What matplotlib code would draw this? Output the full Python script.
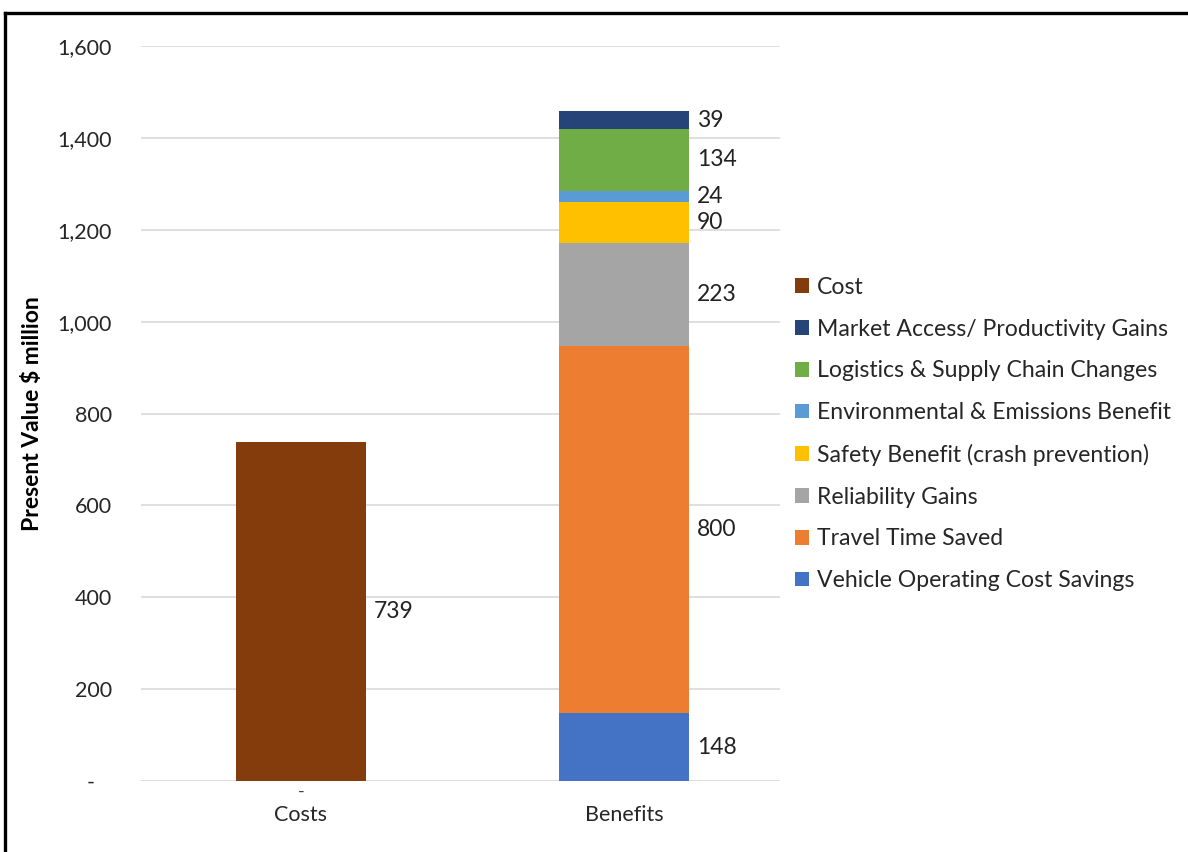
import numpy as np
import matplotlib
matplotlib.use("Agg")
import matplotlib.pyplot as plt
from matplotlib.lines import Line2D
from matplotlib.patches import Patch
from matplotlib.ticker import FuncFormatter

plt.rcParams['font.family'] = ['Lato', 'DejaVu Sans']

categories = ["Costs", "Benefits"]
# stacking order, bottom to top
series_names = ["Cost", "Vehicle Operating Cost Savings", "Travel Time Saved",
                "Reliability Gains", "Safety Benefit (crash prevention)",
                "Environmental & Emissions Benefit", "Logistics & Supply Chain Changes",
                "Market Access/ Productivity Gains"]
series_values = [[739, 0], [0, 148], [0, 800], [0, 223], [0, 90], [0, 24], [0, 134], [0, 39]]
colors = ["#843C0C", "#4472C4", "#ED7D31", "#A5A5A5", "#FFC000",
          "#5B9BD5", "#70AD47", "#264478"]
legend_order = [0, 7, 6, 5, 4, 3, 2, 1]
yticks = [0, 200, 400, 600, 800, 1000, 1200, 1400, 1600]

fig = plt.figure(figsize=(11.88, 8.52), dpi=100)
ax = fig.add_axes([141/1188, 1-781/852, (780-141)/1188, (781-46)/852])

x = np.arange(len(categories))
bottom = np.zeros(len(categories))
width = 0.40
for name, vals, c in zip(series_names, series_values, colors):
    vals = np.array(vals, dtype=float)
    ax.bar(x, vals, width, bottom=bottom, color=c, zorder=3, label=name)
    for i, v in enumerate(vals):
        if v > 0:
            ax.text(x[i] + width/2 + 0.025, bottom[i] + v/2, f"{v:.0f}",
                    ha="left", va="center", fontsize=16.5, color="#222222")
    bottom += vals
# zero-value label under the Costs bar
ax.text(0, -6, "-", ha="center", va="top", fontsize=13, color="#404040")

ax.set_xlim(-0.495, 1.483)
ax.set_ylim(0, 1600)
ax.set_yticks(yticks)
ax.yaxis.set_major_formatter(FuncFormatter(lambda v, p: "-   " if v == 0 else f"{v:,.0f}"))
ax.set_xticks(x)
ax.set_xticklabels(categories)
ax.tick_params(axis="both", length=0, labelsize=15.5, labelcolor="#262626")
ax.tick_params(axis="y", pad=21)
ax.tick_params(axis="x", pad=17)
ax.grid(axis="y", color="#D9D9D9", linewidth=1.2, zorder=0)
for s in ax.spines.values():
    s.set_visible(False)
ax.set_ylabel("Present Value $ million", fontsize=16.5, fontweight="bold", labelpad=10)

handles = [Patch(facecolor=colors[i], edgecolor="none") for i in legend_order]
labels = [series_names[i] for i in legend_order]
fig.legend(handles, labels, loc="center left", bbox_to_anchor=(774/1188, 1-434/852),
           frameon=False, fontsize=16.6, handlelength=0.6, handleheight=0.6,
           handletextpad=0.35, labelspacing=0.9, labelcolor="#262626")

# outer border (top and left edges visible in the reference)
fig.add_artist(Line2D([5/1188, 5/1188], [0, 1-13/852], transform=fig.transFigure,
                      color="black", linewidth=2.4))
fig.add_artist(Line2D([5/1188, 1], [1-13/852, 1-13/852], transform=fig.transFigure,
                      color="black", linewidth=2.4))

fig.savefig("out.png", dpi=100)
